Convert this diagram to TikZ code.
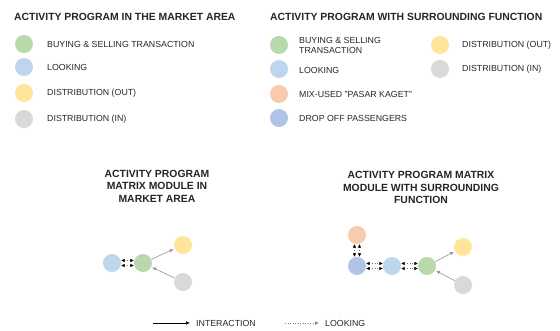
\documentclass[tikz,border=0pt]{standalone}
\usepackage{fontspec}
\setmainfont{Liberation Sans}
\usetikzlibrary{arrows.meta}
\definecolor{cgreen}{RGB}{184,218,170}
\definecolor{cblue}{RGB}{189,214,238}
\definecolor{cyellow}{RGB}{255,229,153}
\definecolor{cgray}{RGB}{217,217,217}
\definecolor{corange}{RGB}{248,203,173}
\definecolor{cdblue}{RGB}{176,196,232}
\definecolor{ctext}{RGB}{40,40,40}
\begin{document}
\begin{tikzpicture}[x=1pt,y=-1pt,
  dot/.style={circle,fill=#1,minimum size=18pt,inner sep=0pt},
  head/.style={font=\bfseries\fontsize{10.4}{12}\selectfont,text=black!85,anchor=west,inner sep=0pt},
  item/.style={font=\fontsize{8.8}{10.8}\selectfont,text=ctext,anchor=west,inner sep=0pt,align=left},
  mtitle/.style={font=\bfseries\fontsize{10.4}{12.5}\selectfont,text=black!85,align=center,inner sep=0pt},
  inter/.style={draw=gray!85,line width=0.6pt,-{Latex[length=4pt,width=3.5pt]},shorten >=1pt},
  look/.style={draw=gray!90!black,line width=0.6pt,dotted,{Latex[length=3.5pt,width=3.5pt,color=black]}-{Latex[length=3.5pt,width=3.5pt,color=black]}},
  key/.style={draw=black,line width=0.5pt,-{Latex[length=4pt,width=3.5pt]}}]
\useasboundingbox (0,0) rectangle (560,330);
\fill[white] (0,0) rectangle (560,330);

% legend: activity program in the market area
\node[head] (h1) at (14,17) {ACTIVITY PROGRAM IN THE MARKET AREA};
\node[dot=cgreen] (l1a) at (24,44) {};
\node[item] (t1a) at (47,44) {BUYING \& SELLING TRANSACTION};
\node[dot=cblue] (l1b) at (24,67) {};
\node[item] (t1b) at (47,67) {LOOKING};
\node[dot=cyellow] (l1c) at (24,93) {};
\node[item] (t1c) at (47,93) {DISTRIBUTION (OUT)};
\node[dot=cgray] (l1d) at (24,119) {};
\node[item] (t1d) at (47,119) {DISTRIBUTION (IN)};

% legend: activity program with surrounding function
\node[head] (h2) at (270,17) {ACTIVITY PROGRAM WITH SURROUNDING FUNCTION};
\node[dot=cgreen] (l2a) at (279,45) {};
\node[item] (t2a) at (299,45.5) {BUYING \& SELLING\\TRANSACTION};
\node[dot=cblue] (l2b) at (279,69) {};
\node[item] (t2b) at (299,70) {LOOKING};
\node[dot=corange] (l2c) at (279,94) {};
\node[item] (t2c) at (299,94) {MIX-USED "PASAR KAGET"};
\node[dot=cdblue] (l2d) at (279,118) {};
\node[item] (t2d) at (299,118) {DROP OFF PASSENGERS};
\node[dot=cyellow] (l2e) at (440,45) {};
\node[item] (t2e) at (462,45) {DISTRIBUTION (OUT)};
\node[dot=cgray] (l2f) at (440,69) {};
\node[item] (t2f) at (462,69) {DISTRIBUTION (IN)};

% matrix module in market area
\node[mtitle] (m1) at (157,186) {ACTIVITY PROGRAM\\MATRIX MODULE IN\\MARKET AREA};
\node[dot=cblue] (a1) at (112,263) {};
\node[dot=cgreen] (a2) at (143,263) {};
\node[dot=cyellow] (a3) at (183,245) {};
\node[dot=cgray] (a4) at (183,282) {};
\draw[look] ([yshift=-2.5pt]a1.east) -- ([yshift=-2.5pt]a2.west);
\draw[look] ([yshift=2.5pt]a1.east) -- ([yshift=2.5pt]a2.west);
\draw[inter] (a2) -- (a3);
\draw[inter] (a4) -- (a2);

% matrix module with surrounding function
\node[mtitle] (m2) at (421,187.5) {ACTIVITY PROGRAM MATRIX\\MODULE WITH SURROUNDING\\FUNCTION};
\node[dot=corange] (b0) at (357,235) {};
\node[dot=cdblue] (b1) at (357,266) {};
\node[dot=cblue] (b2) at (392,266) {};
\node[dot=cgreen] (b3) at (427,266) {};
\node[dot=cyellow] (b4) at (463,247) {};
\node[dot=cgray] (b5) at (463,285) {};
\draw[look] ([xshift=-2.5pt]b0.south) -- ([xshift=-2.5pt]b1.north);
\draw[look] ([xshift=2.5pt]b0.south) -- ([xshift=2.5pt]b1.north);
\draw[look] ([yshift=-2.5pt]b1.east) -- ([yshift=-2.5pt]b2.west);
\draw[look] ([yshift=2.5pt]b1.east) -- ([yshift=2.5pt]b2.west);
\draw[look] ([yshift=-2.5pt]b2.east) -- ([yshift=-2.5pt]b3.west);
\draw[look] ([yshift=2.5pt]b2.east) -- ([yshift=2.5pt]b3.west);
\draw[inter] (b3) -- (b4);
\draw[inter] (b5) -- (b3);

% key
\coordinate (k1s) at (153,323);
\node[item] (k1) at (196,323) {INTERACTION};
\draw[key] (k1s) -- ([xshift=-6pt]k1.west);
\coordinate (k2s) at (285,323);
\node[item] (k2) at (325,323) {LOOKING};
\draw[key,dotted,draw=gray] (k2s) -- ([xshift=-6pt]k2.west);
\end{tikzpicture}
\end{document}
